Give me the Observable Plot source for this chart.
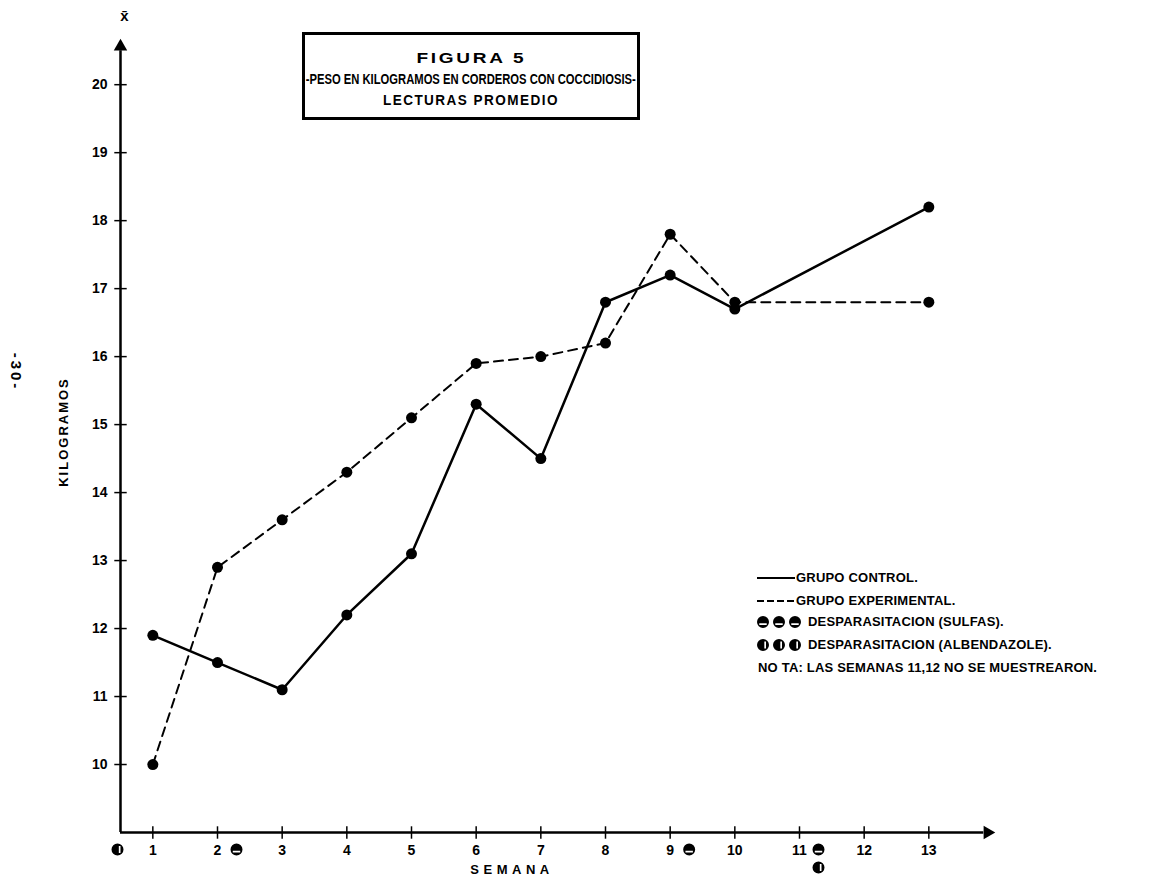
<!DOCTYPE html>
<html>
<head>
<meta charset="utf-8">
<script src="https://cdn.jsdelivr.net/npm/d3@7"></script>
<script src="https://cdn.jsdelivr.net/npm/@observablehq/plot@0.6"></script>
<style>
  html, body { margin: 0; padding: 0; background: #fff; }
  #wrap { position: relative; width: 1161px; height: 881px; overflow: hidden; font-family: "Liberation Sans", Arial, sans-serif; color: #000; }
  #chart { position: absolute; left: 0; top: 0; }
  .abs { position: absolute; white-space: nowrap; }
  #titlebox { left: 302px; top: 32px; width: 332px; height: 69px; border: 3px solid #000; font-weight: bold; font-size: 14px; line-height: 21px; padding-top: 13px; box-sizing: content-box; }
  #titlebox div { height: 21px; display: flex; justify-content: center; }
  #titlebox span { display: inline-block; flex: none; transform-origin: 50% 50%; }
  .legend { left: 757px; font-size: 13px; font-weight: bold; line-height: 14px; display: flex; align-items: center; letter-spacing: 0.2px; }
  .legend svg { display: block; }
</style>
</head>
<body>
<div id="wrap">
  <div id="chart"></div>
  <div id="titlebox" class="abs">
    <div><span data-w="110" style="letter-spacing:2px">FIGURA 5</span></div>
    <div><span data-w="330">-PESO EN KILOGRAMOS EN CORDEROS CON COCCIDIOSIS-</span></div>
    <div><span data-w="176" style="letter-spacing:1.5px">LECTURAS PROMEDIO</span></div>
  </div>
  <div class="abs" style="left:63px; top:432px; transform: translate(-50%,-50%) rotate(-90deg); font-weight:bold; font-size:13px; letter-spacing:2px;">KILOGRAMOS</div>
  <div class="abs" style="left:16px; top:372px; transform: translate(-50%,-50%) rotate(90deg); font-weight:bold; font-size:15px; letter-spacing:3px;">-30-</div>
  <div class="abs" style="left:512px; top:862px; transform: translateX(-50%); font-weight:bold; font-size:13px; letter-spacing:4.5px;">SEMANA</div>
  <div id="legend"></div>
</div>
<script>
// ---- Data ----
const weeks = [1, 2, 3, 4, 5, 6, 7, 8, 9, 10, 13];
const control = [11.9, 11.5, 11.1, 12.2, 13.1, 15.3, 14.5, 16.8, 17.2, 16.7, 18.2];
const experimental = [10.0, 12.9, 13.6, 14.3, 15.1, 15.9, 16.0, 16.2, 17.8, 16.8, 16.8];
const xTicks = [1, 2, 3, 4, 5, 6, 7, 8, 9, 10, 11, 12, 13];
const yTicks = [10, 11, 12, 13, 14, 15, 16, 17, 18, 19, 20];
const sulfasWeeks = [2, 9, 11];
const albendazoleWeeks = [0, 11];
const legendLabels = ["GRUPO CONTROL.", "GRUPO EXPERIMENTAL.", "DESPARASITACION (SULFAS).", "DESPARASITACION (ALBENDAZOLE).", "NO TA: LAS SEMANAS 11,12 NO SE MUESTREARON."];

// ---- Build tables ----
const rows = [];
weeks.forEach((w, i) => {
  rows.push({week: w, kg: control[i], group: "control"});
  rows.push({week: w, kg: experimental[i], group: "experimental"});
});
const xMin = 0.5, xMax = 14, yMin = 9, yMax = 20.65;

// custom symbols
const vTick = {draw(ctx, size) { const h = Math.sqrt(size); ctx.moveTo(0, -h); ctx.lineTo(0, h); }};
const hTick = {draw(ctx, size) { const h = Math.sqrt(size); ctx.moveTo(-h, 0); ctx.lineTo(h, 0); }};
const sulfasSym = {draw(ctx, size) {
  const r = Math.sqrt(size / Math.PI);
  ctx.moveTo(r, 0); ctx.arc(0, 0, r, 0, 2 * Math.PI);
  const x0 = -r * 0.62, x1 = r * 0.62, y0 = r * 0.2, y1 = r * 0.48;
  ctx.moveTo(x0, y0); ctx.lineTo(x0, y1); ctx.lineTo(x1, y1); ctx.lineTo(x1, y0); ctx.closePath();
}};
const albSym = {draw(ctx, size) {
  const r = Math.sqrt(size / Math.PI);
  ctx.moveTo(r, 0); ctx.arc(0, 0, r, 0, 2 * Math.PI);
  const x0 = r * 0.22, x1 = r * 0.5, y0 = -r * 0.6, y1 = r * 0.6;
  ctx.moveTo(x0, y0); ctx.lineTo(x0, y1); ctx.lineTo(x1, y1); ctx.lineTo(x1, y0); ctx.closePath();
}};

const origin = albendazoleWeeks.filter(w => w === 0);
const albLater = albendazoleWeeks.filter(w => w !== 0);

const font = "Liberation Sans, Arial, sans-serif";

const plot = Plot.plot({
  width: 1161,
  height: 881,
  marginLeft: 120,
  marginRight: 168,
  marginTop: 40,
  marginBottom: 49,
  x: {domain: [xMin, xMax], axis: null},
  y: {domain: [yMin, yMax], axis: null},
  style: {fontFamily: font, background: "#fff"},
  marks: [
    // axes
    Plot.ruleX([xMin], {y1: yMin, y2: yMax - 0.15, stroke: "#000", strokeWidth: 2.5}),
    Plot.ruleY([yMin], {x1: xMin, x2: xMax - 0.15, stroke: "#000", strokeWidth: 2.5}),
    Plot.dot([0], {x: xMin, y: yMax, symbol: "triangle", r: 5, fill: "#000", dy: 6}),
    Plot.dot([0], {x: xMax, y: yMin, symbol: "triangle", r: 5, fill: "#000", rotate: 90, dx: -6}),
    Plot.dot(xTicks, {x: d => d, y: yMin, symbol: vTick, r: 3.5, stroke: "#000", strokeWidth: 1.5, fill: "none"}),
    Plot.dot(yTicks, {x: xMin, y: d => d, symbol: hTick, r: 3.5, stroke: "#000", strokeWidth: 1.5, fill: "none"}),
    Plot.text(xTicks, {x: d => d, y: yMin, dy: 18, text: d => String(d), fontSize: 14, fontWeight: "bold"}),
    Plot.text(yTicks, {x: xMin, y: d => d, dx: -13, text: d => String(d), fontSize: 14, fontWeight: "bold", textAnchor: "end"}),
    Plot.text(["x\u0304"], {x: xMin, y: yMax, dy: -24, dx: 4, text: d => d, fontSize: 15, fontWeight: "bold"}),
    // deworming markers
    Plot.dot(origin, {x: xMin, y: yMin, dx: -3, dy: 17, symbol: albSym, r: 6, fill: "#000"}),
    Plot.dot(sulfasWeeks, {x: d => d, y: yMin, dx: 19, dy: 17, symbol: sulfasSym, r: 6, fill: "#000"}),
    Plot.dot(albLater, {x: d => d, y: yMin, dx: 19, dy: 35, symbol: albSym, r: 6, fill: "#000"}),
    // series
    Plot.line(rows.filter(d => d.group === "control"), {x: "week", y: "kg", stroke: "#000", strokeWidth: 2.5}),
    Plot.line(rows.filter(d => d.group === "experimental"), {x: "week", y: "kg", stroke: "#000", strokeWidth: 2, strokeDasharray: "9,6"}),
    Plot.dot(rows, {x: "week", y: "kg", r: 5.5, fill: "#000"})
  ]
});
document.getElementById("chart").appendChild(plot);

// fit title lines to their widths
document.querySelectorAll("#titlebox span").forEach(s => {
  const target = +s.dataset.w;
  const w = s.getBoundingClientRect().width;
  if (w > 0) s.style.transform = `scaleX(${target / w})`;
});

// ---- Legend ----
const legend = document.getElementById("legend");
const legendTops = [571, 594, 615, 638, 661];
function symSvg(sym) {
  const p = d3.path(); sym.draw(p, Math.PI * 36);
  return `<svg width="48" height="14" viewBox="-3 -7 48 14">` +
    [0, 16, 32].map(dx => `<path transform="translate(${dx + 3},0)" d="${p.toString()}" fill="#000"/>`).join("") + `</svg>`;
}
legendLabels.forEach((label, i) => {
  const div = document.createElement("div");
  div.className = "abs legend";
  div.style.top = legendTops[i] + "px";
  let sample = "";
  if (i === 0) sample = `<svg width="38" height="6"><line x1="0" y1="3" x2="38" y2="3" stroke="#000" stroke-width="2"/></svg>`;
  else if (i === 1) sample = `<svg width="38" height="6"><line x1="0" y1="3" x2="38" y2="3" stroke="#000" stroke-width="2" stroke-dasharray="7,3"/></svg>`;
  else if (i === 2) sample = symSvg(sulfasSym);
  else if (i === 3) sample = symSvg(albSym);
  div.innerHTML = sample + `<span style="margin-left:${i >= 2 && i <= 3 ? 3 : 1}px">${label}</span>`;
  legend.appendChild(div);
});
</script>
</body>
</html>
